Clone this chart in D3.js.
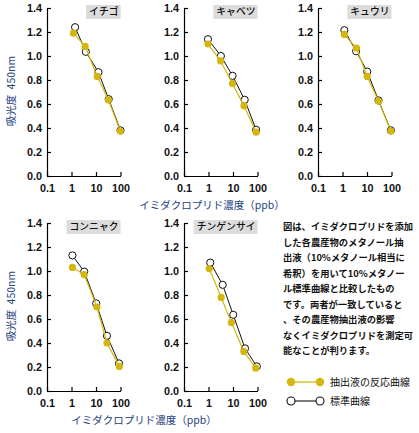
<!DOCTYPE html>
<html>
<head>
<meta charset="utf-8">
<script src="https://cdn.jsdelivr.net/npm/d3@7"></script>
<style>
  body { margin: 0; background: #fff; }
  svg { display: block; }
</style>
</head>
<body>
<script>
// Panel names (crops)
const crops = ["イチゴ", "キャベツ", "キュウリ", "コンニャク", "チンゲンサイ"];

// Extract (抽出液の反応曲線): concentration (ppb) and absorbance per panel
const extractConc = [
  [1.2, 3.6, 11.2, 32, 98],
  [0.95, 3.1, 9.5, 28, 88],
  [1.19, 3.7, 10.2, 29.5, 94],
  [1.09, 3.3, 10.9, 28, 89],
  [1.07, 3.3, 8.6, 27.6, 85]
];
const extractAbs = [
  [1.19, 1.08, 0.83, 0.635, 0.375],
  [1.10, 0.96, 0.77, 0.585, 0.365],
  [1.18, 1.065, 0.83, 0.625, 0.375],
  [1.03, 0.97, 0.70, 0.40, 0.205],
  [1.02, 0.78, 0.57, 0.33, 0.19]
];

// Standard curve (標準曲線)
const standardConc = [
  [1.4, 3.85, 12.6, 33, 100],
  [0.95, 3.2, 9.6, 30, 88],
  [1.19, 3.6, 10.2, 29.5, 94],
  [1.09, 3.3, 10.2, 28, 87],
  [1.18, 3.8, 10.2, 31, 94]
];
const standardAbs = [
  [1.24, 1.035, 0.865, 0.64, 0.38],
  [1.14, 1.0, 0.835, 0.635, 0.385],
  [1.215, 1.04, 0.87, 0.63, 0.38],
  [1.13, 0.995, 0.73, 0.46, 0.23],
  [1.07, 0.885, 0.635, 0.355, 0.205]
];

const xTicks = [0.1, 1, 10, 100];
const xTickLabels = ["0.1", "1", "10", "100"];
const yTicks = [0, 0.2, 0.4, 0.6, 0.8, 1.0, 1.2, 1.4];

const xTitle = "イミダクロプリド濃度（ppb）";
const yTitle = "吸光度\u2002450nm";
const noteLines = [
  "図は、イミダクロプリドを添加",
  "した各農産物のメタノール抽",
  "出液（10%メタノール相当に",
  "希釈）を用いて10%メタノー",
  "ル標準曲線と比較したもの",
  "です。両者が一致していると",
  "、その農産物抽出液の影響",
  "なくイミダクロプリドを測定可",
  "能なことが判ります。"
];
const legendLabels = ["抽出液の反応曲線", "標準曲線"];

// layout
const W = 419, H = 433;
const yellow = "#d4b60e";
const navy = "#23427f";
const jp = "'Noto Sans CJK JP', 'Noto Sans', sans-serif";
const num = "'Liberation Sans Narrow', 'Arial Narrow', 'Liberation Sans', sans-serif";
const panelLeft = [47, 184, 318, 47, 184];
const panelTop = [8, 8, 8, 223, 223];
const plotW = 73.5, plotH = 168;

const svg = d3.select("body").append("svg")
  .attr("width", W).attr("height", H);

crops.forEach((name, i) => {
  const x = d3.scaleLog().domain([0.1, 100]).range([0, plotW]);
  const y = d3.scaleLinear().domain([0, 1.4]).range([plotH, 0]);
  const g = svg.append("g").attr("transform", `translate(${panelLeft[i]},${panelTop[i]})`);

  // y axis
  const ya = g.append("g")
    .call(d3.axisLeft(y).tickValues(yTicks).tickFormat(d3.format(".1f"))
      .tickSizeInner(-4).tickSizeOuter(0).tickPadding(5));
  // x axis
  const xa = g.append("g").attr("transform", `translate(0,${plotH})`)
    .call(d3.axisBottom(x).tickValues(xTicks).tickFormat((d, k) => xTickLabels[k])
      .tickSizeInner(-4).tickSizeOuter(0).tickPadding(8));
  [ya, xa].forEach(a => {
    a.select(".domain").attr("stroke", "#000").attr("stroke-width", 1.2);
    a.selectAll(".tick line").attr("stroke", "#000").attr("stroke-width", 1.2);
    a.selectAll("text").attr("font-family", num).attr("font-size", 10.8)
      .attr("fill", "#111").attr("font-weight", "bold");
  });

  // title box, right aligned to the plot end
  const box = g.append("rect").attr("fill", "#dcdcdc");
  const t = g.append("text")
    .attr("font-family", jp).attr("font-size", 9.8).attr("font-weight", 500)
    .attr("fill", "#111").attr("text-anchor", "end")
    .attr("x", plotW - 2).attr("y", 4).attr("dy", "0.35em")
    .text(name);
  const bb = t.node().getBBox();
  box.attr("x", bb.x - 3).attr("y", -3).attr("width", bb.width + 5).attr("height", 14);

  const line = d3.line().x(d => x(d[0])).y(d => y(d[1]));
  const std = standardConc[i].map((c, k) => [c, standardAbs[i][k]]);
  const ext = extractConc[i].map((c, k) => [c, extractAbs[i][k]]);

  g.append("path").datum(std).attr("d", line)
    .attr("fill", "none").attr("stroke", "#111").attr("stroke-width", 1);
  g.selectAll(".std").data(std).enter().append("circle")
    .attr("cx", d => x(d[0])).attr("cy", d => y(d[1])).attr("r", 3.6)
    .attr("fill", "#fff").attr("stroke", "#111").attr("stroke-width", 1);

  g.append("path").datum(ext).attr("d", line)
    .attr("fill", "none").attr("stroke", yellow).attr("stroke-width", 1.2);
  g.selectAll(".ext").data(ext).enter().append("circle")
    .attr("cx", d => x(d[0])).attr("cy", d => y(d[1])).attr("r", 3.6)
    .attr("fill", yellow);
});

// axis titles
[[212, 205], [144, 420]].forEach(([cx, cy]) => {
  svg.append("text").attr("x", cx).attr("y", cy).attr("dy", "0.35em")
    .attr("text-anchor", "middle").attr("font-family", jp).attr("font-size", 10.5)
    .attr("fill", navy).text(xTitle);
});
[91, 306].forEach(cy => {
  svg.append("text").attr("transform", `translate(11,${cy}) rotate(-90)`)
    .attr("dy", "0.35em").attr("text-anchor", "middle")
    .attr("font-family", jp).attr("font-size", 10.5).attr("fill", navy)
    .text(yTitle);
});

// note
svg.append("g").selectAll("text").data(noteLines).enter().append("text")
  .attr("x", 283).attr("y", (d, k) => 226.7 + k * 15.55).attr("dy", "0.35em")
  .attr("font-family", jp).attr("font-size", 9.3).attr("font-weight", "bold")
  .attr("fill", "#111").text(d => d);

// legend
const lg = svg.append("g");
lg.append("line").attr("x1", 291).attr("x2", 320).attr("y1", 382).attr("y2", 382)
  .attr("stroke", yellow).attr("stroke-width", 1.3);
[291, 320].forEach(cx => lg.append("circle").attr("cx", cx).attr("cy", 382).attr("r", 4.2).attr("fill", yellow));
lg.append("line").attr("x1", 291).attr("x2", 320).attr("y1", 401).attr("y2", 401)
  .attr("stroke", "#111").attr("stroke-width", 1.1);
[291, 320].forEach(cx => lg.append("circle").attr("cx", cx).attr("cy", 401).attr("r", 4)
  .attr("fill", "#fff").attr("stroke", "#111").attr("stroke-width", 1.1));
legendLabels.forEach((s, k) => {
  lg.append("text").attr("x", 330).attr("y", 382 + k * 19).attr("dy", "0.35em")
    .attr("font-family", jp).attr("font-size", 10).attr("fill", "#111").text(s);
});
</script>
</body>
</html>
